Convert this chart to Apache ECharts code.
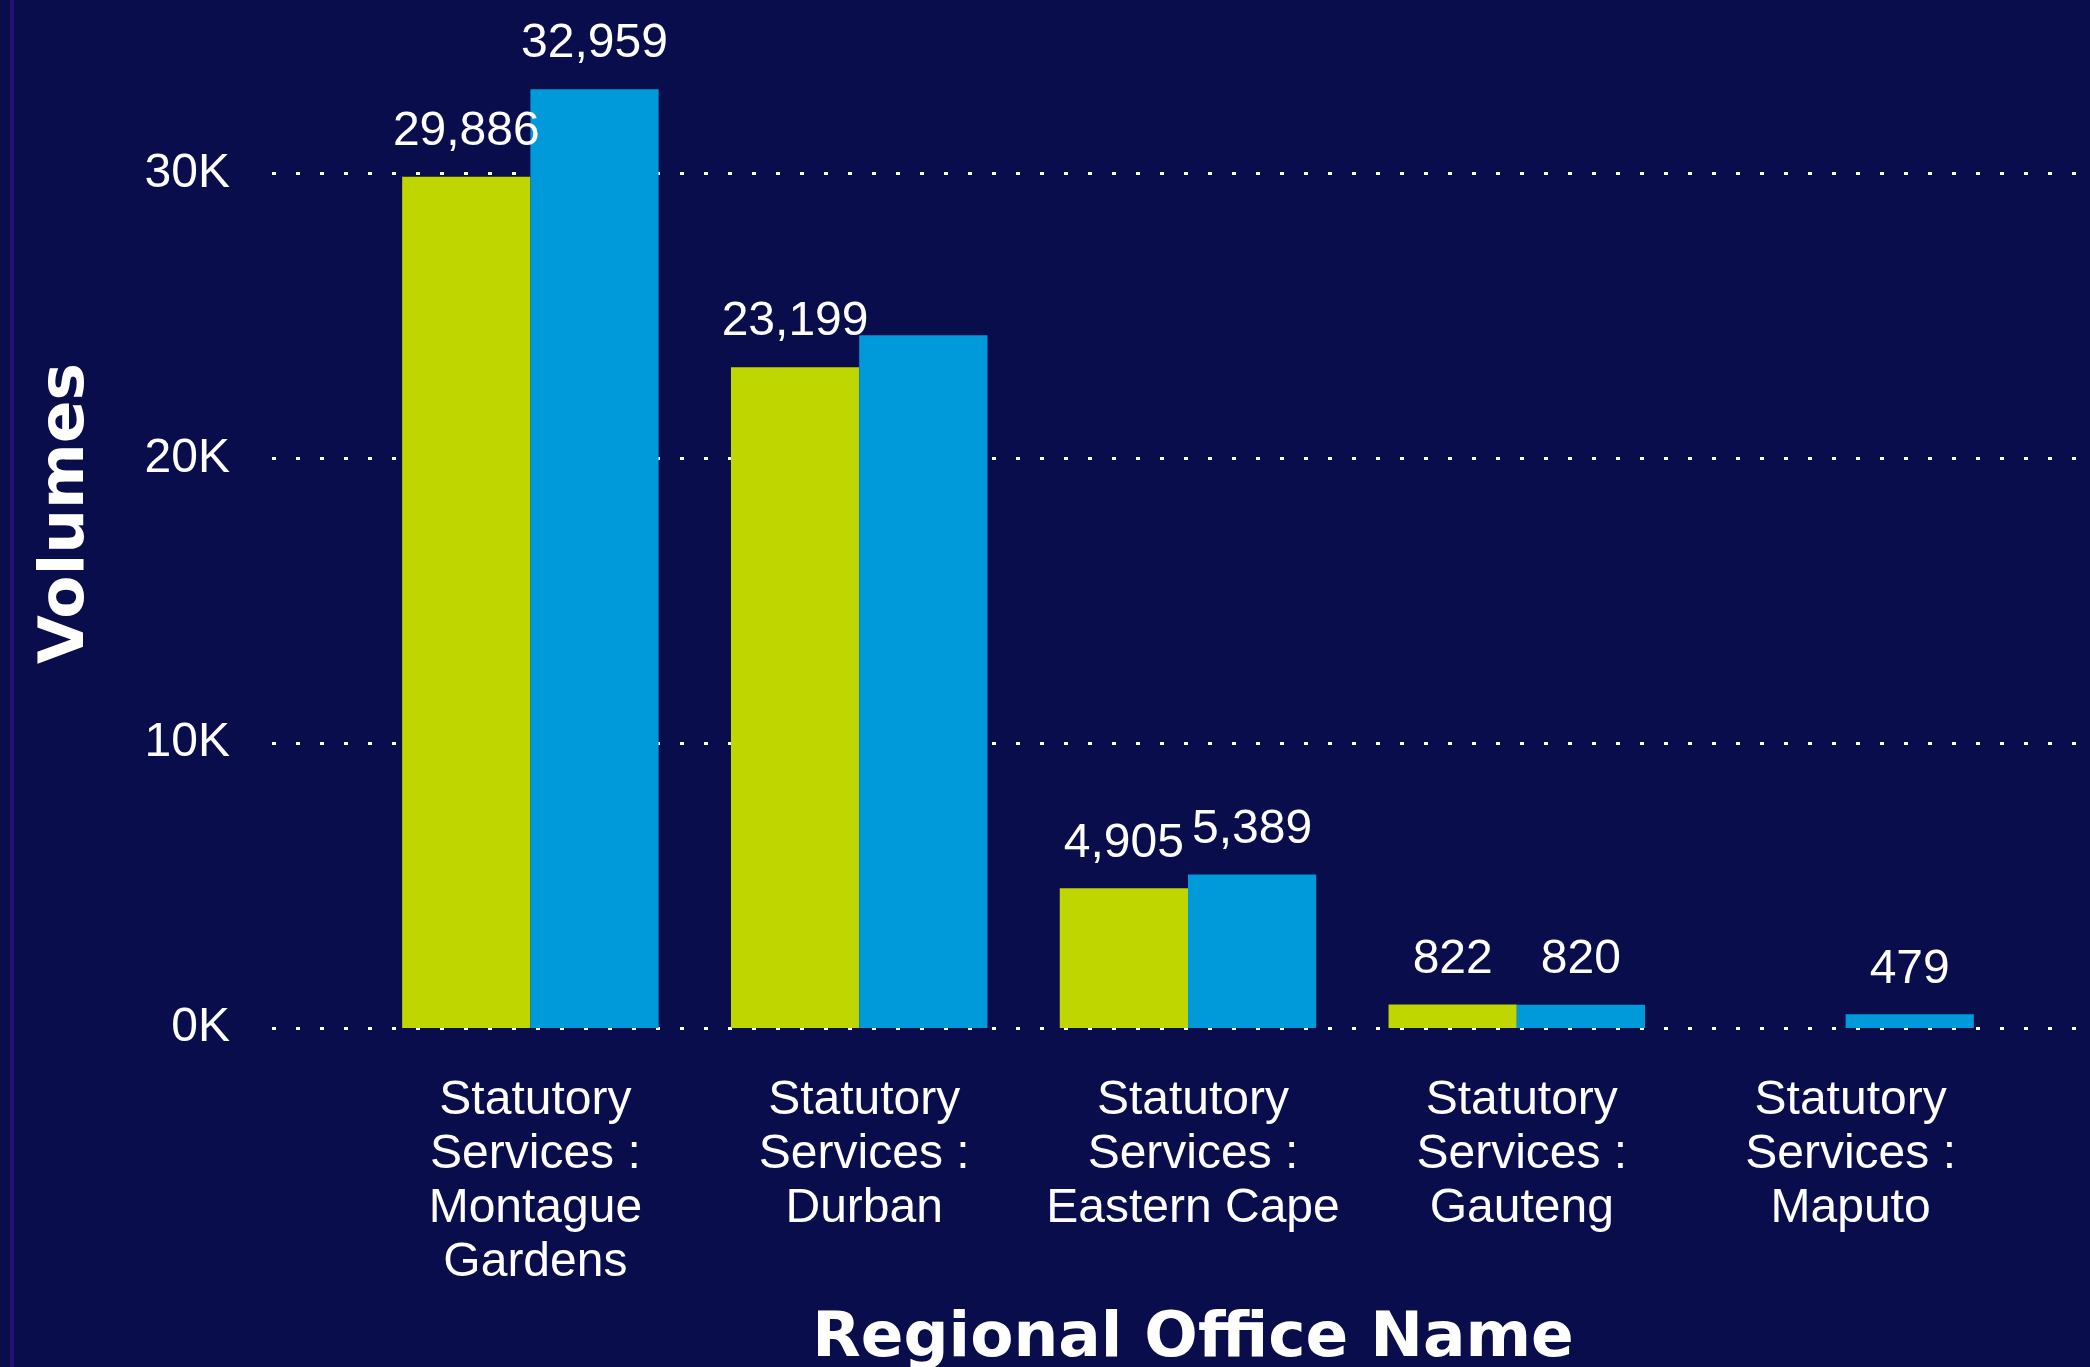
<!DOCTYPE html>
<html>
<head>
<meta charset="utf-8">
<title>Volumes by Regional Office</title>
<script src="https://cdn.jsdelivr.net/npm/echarts@6/dist/echarts.min.js"></script>
<style>
    html, body { margin: 0; padding: 0; background: #0a0d4b; }
    #chart { width: 2090px; height: 1367px; }
    .edge { position: absolute; left: 10px; top: 0; width: 4px; height: 1367px; background: #250f78; }
</style>
</head>
<body>
<div id="chart"></div>
<div class="edge"></div>
<script>
var offices = [
    "Statutory Services : Montague Gardens",
    "Statutory Services : Durban",
    "Statutory Services : Eastern Cape",
    "Statutory Services : Gauteng",
    "Statutory Services : Maputo"
];
var greenVolumes = [29886, 23199, 4905, 822, null];
var blueVolumes = [32959, 24320, 5389, 820, 479];
var hiddenBlueLabels = [1];   // Durban blue label is not shown in the picture
var yTicks = [0, 10000, 20000, 30000];

window.onload = function() {
    var chart = echarts.init(document.getElementById("chart"));
    var txt = "Liberation Sans, Arial, sans-serif",
        top = 31,
        bottom = 339,
        fs = 48;

    // greedy word wrap so lines carry no trailing spaces
    var ctx = document.createElement("canvas").getContext("2d");
    ctx.font = fs + "px Liberation Sans";
    function wrap(s) {
        var words = s.split(" "), lines = [], cur = "";
        for (var i = 0; i < words.length; i++) {
            var t = cur ? cur + " " + words[i] : words[i];
            if (cur && ctx.measureText(t).width > 310) { lines.push(cur); cur = words[i]; }
            else cur = t;
        }
        lines.push(cur);
        return lines.join("\n");
    }

    var blueData = blueVolumes.map(function(v, i) {
        return hiddenBlueLabels.indexOf(i) > -1 ? { value: v, label: { show: false } } : v;
    });

    var valueLabel = {
        show: true,
        position: "top",
        distance: 21,
        color: "#fff",
        fontSize: fs,
        fontFamily: txt,
        formatter: function(p) { return p.value == null ? "" : p.value.toLocaleString("en-US"); }
    };

    chart.setOption({
        animation: false,
        backgroundColor: "#0a0d4b",
        grid: [
            { left: 272, right: 0, top: top, bottom: bottom, outerBoundsMode: "none" },
            { left: 366, right: 80, top: top, bottom: bottom, outerBoundsMode: "none" }
        ],
        xAxis: [
            { gridIndex: 0, type: "value", min: 0, max: 1, show: false },
            {
                gridIndex: 1,
                type: "category",
                data: offices,
                axisLine: { show: false },
                axisTick: { show: false },
                axisLabel: {
                    color: "#fff",
                    fontSize: fs,
                    fontFamily: txt,
                    lineHeight: 54,
                    margin: 46,
                    padding: [0, 0, 0, 10],
                    interval: 0,
                    formatter: wrap
                },
                name: "Regional Office Name",
                nameLocation: "middle",
                nameGap: 280,
                nameTextStyle: { color: "#fff", fontSize: 63, fontWeight: "bold", fontFamily: "DejaVu Sans", padding: [0, 0, 0, 10] }
            }
        ],
        yAxis: [
            {
                gridIndex: 0,
                type: "value",
                min: 0,
                max: 35000,
                interval: 10000,
                axisLine: { show: false },
                axisTick: { show: false },
                axisLabel: {
                    color: "#fff",
                    fontSize: fs,
                    fontFamily: txt,
                    margin: 42,
                    showMaxLabel: false,
                    formatter: function(v) { return yTicks.indexOf(v) > -1 ? v / 1000 + "K" : ""; }
                },
                splitLine: {
                    show: true,
                    showMaxLine: false,
                    lineStyle: { color: "#fff", width: 3, type: [4, 20] }
                },
                name: "Volumes",
                nameLocation: "middle",
                nameGap: 174,
                nameTextStyle: { color: "#fff", fontSize: 63, fontWeight: "bold", fontFamily: "DejaVu Sans", padding: [0, 0, 0, 32] }
            },
            { gridIndex: 1, type: "value", min: 0, max: 35000, show: false }
        ],
        series: [
            {
                type: "bar",
                xAxisIndex: 1,
                yAxisIndex: 1,
                data: greenVolumes,
                barGap: "0%",
                barCategoryGap: "22%",
                itemStyle: { color: "#bfd600" },
                label: valueLabel
            },
            {
                type: "bar",
                xAxisIndex: 1,
                yAxisIndex: 1,
                data: blueData,
                barGap: "0%",
                barCategoryGap: "22%",
                itemStyle: { color: "#0099da" },
                label: valueLabel
            }
        ]
    });
};
</script>
</body>
</html>
